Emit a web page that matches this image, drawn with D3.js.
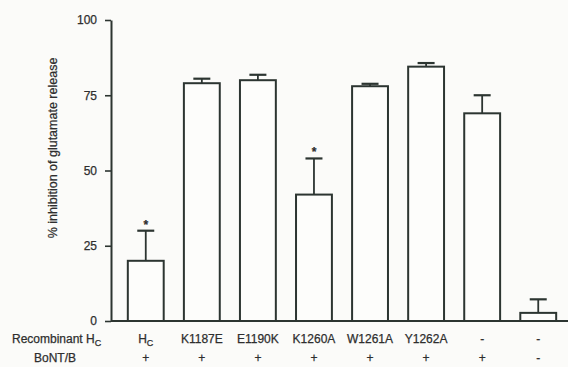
<!DOCTYPE html>
<html>
<head>
<meta charset="utf-8">
<script src="https://cdn.jsdelivr.net/npm/d3@7"></script>
<style>
  html, body { margin: 0; padding: 0; background: #fbfbf9; }
  svg { display: block; }
  text { font-family: "Liberation Sans", Arial, sans-serif; fill: #2e2e2e; stroke: #2e2e2e; stroke-width: 0.25px; }
</style>
</head>
<body>
<svg id="chart" width="568" height="367"></svg>
<script>
// Recombinant HC constructs tested against BoNT/B
const categories = ["HC", "K1187E", "E1190K", "K1260A", "W1261A", "Y1262A", "-", "-"];
const values = [20, 79, 80, 42, 78, 84.5, 69, 2.7];
const errors = [10, 1.5, 1.8, 12, 0.8, 1.2, 6, 4.5];
const significant = [true, false, false, true, false, false, false, false];
const bont = ["+", "+", "+", "+", "+", "+", "+", "-"];
const yTicks = [0, 25, 50, 75, 100];

const ink = "#2c3531";
const svg = d3.select("#chart");

const y = d3.scaleLinear().domain([0, 100]).range([321, 20]);
const x = d3.scaleBand()
  .domain(d3.range(categories.length))
  .range([111, 573])
  .paddingInner(0.36)
  .paddingOuter(0.3);

// y axis
const yAxis = svg.append("g")
  .attr("transform", "translate(111,0)")
  .call(d3.axisLeft(y).tickValues(yTicks).tickSize(6).tickPadding(8).tickSizeOuter(0));
yAxis.select(".domain").attr("stroke", ink).attr("stroke-width", 2);
yAxis.selectAll(".tick line").attr("stroke", ink).attr("stroke-width", 1.6);
yAxis.selectAll(".tick text").style("font-size", "12px");

// baseline
svg.append("line")
  .attr("x1", 111).attr("x2", 568)
  .attr("y1", y(0)).attr("y2", y(0))
  .attr("stroke", ink).attr("stroke-width", 2);

// bars
svg.append("g").selectAll("rect")
  .data(values)
  .join("rect")
  .attr("x", (d, i) => x(i))
  .attr("y", d => y(d))
  .attr("width", x.bandwidth())
  .attr("height", d => y(0) - y(d))
  .attr("fill", "#fdfdfb")
  .attr("stroke", ink)
  .attr("stroke-width", 2);

// upper error bars
const eb = svg.append("g").attr("stroke", ink).attr("stroke-width", 1.8);
values.forEach((v, i) => {
  const cx = x(i) + x.bandwidth() / 2;
  eb.append("line").attr("x1", cx).attr("x2", cx).attr("y1", y(v)).attr("y2", y(v + errors[i]));
  eb.append("line").attr("x1", cx - 8.5).attr("x2", cx + 8.5)
    .attr("y1", y(v + errors[i])).attr("y2", y(v + errors[i])).attr("stroke-width", 2.2);
});

// significance markers
svg.append("g").selectAll("text")
  .data(values.map((v, i) => ({ v, i })).filter(d => significant[d.i]))
  .join("text")
  .attr("x", d => x(d.i) + x.bandwidth() / 2)
  .attr("y", d => y(d.v + errors[d.i]) - 2)
  .attr("text-anchor", "middle")
  .style("font-size", "12px")
  .style("font-weight", "bold")
  .text("*");

// construct labels
const row1 = svg.append("g").style("font-size", "12px");
row1.append("text").attr("x", 12).attr("y", 343)
  .text("Recombinant H")
  .append("tspan").attr("dy", 3).style("font-size", "9px").text("C");
categories.forEach((c, i) => {
  const t = row1.append("text")
    .attr("x", x(i) + x.bandwidth() / 2)
    .attr("y", 343)
    .attr("text-anchor", "middle");
  if (c === "HC") {
    t.text("H").append("tspan").attr("dy", 3).style("font-size", "9px").text("C");
  } else {
    t.text(c);
  }
});

// toxin row
const row2 = svg.append("g").style("font-size", "12px");
row2.append("text").attr("x", 55).attr("y", 362).attr("text-anchor", "middle").text("BoNT/B");
bont.forEach((b, i) => {
  row2.append("text")
    .attr("x", x(i) + x.bandwidth() / 2)
    .attr("y", 362)
    .attr("text-anchor", "middle")
    .text(b);
});

// y axis title
svg.append("text")
  .attr("transform", "translate(57,148) rotate(-90)")
  .attr("text-anchor", "middle")
  .style("font-size", "12.5px")
  .text("% inhibition of glutamate release");
</script>
</body>
</html>
